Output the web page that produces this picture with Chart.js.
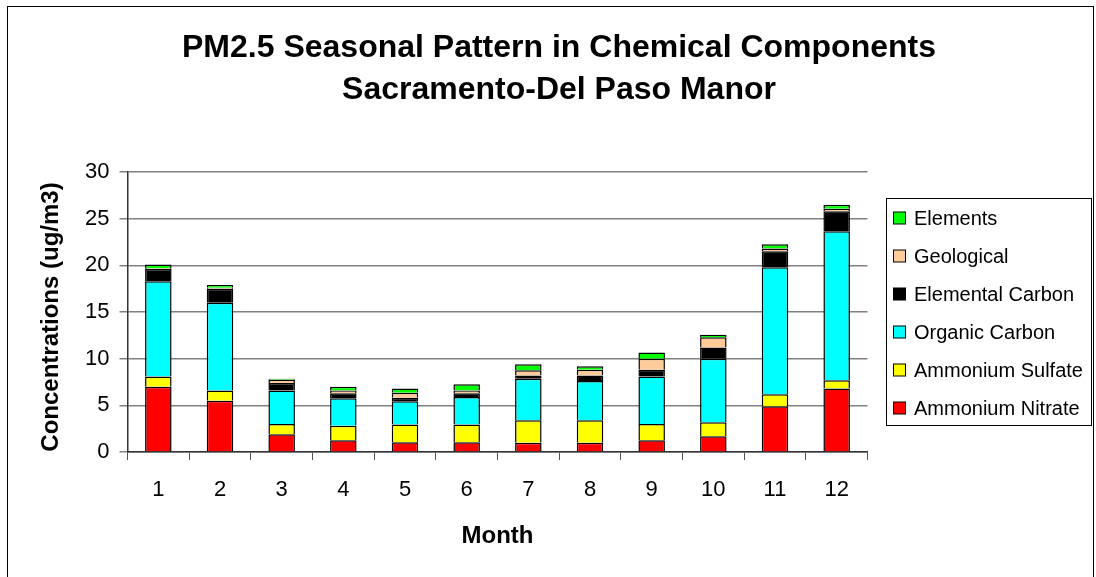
<!DOCTYPE html>
<html>
<head>
<meta charset="utf-8">
<script src="https://cdn.jsdelivr.net/npm/chart.js@4.4.0/dist/chart.umd.min.js"></script>
<style>
  html, body { margin: 0; padding: 0; background: #fff; }
  canvas { display: block; }
</style>
</head>
<body>
<canvas id="myChart" width="1096" height="577"></canvas>
<script>
// months and the six components, bottom of the stack first
const months = ['1', '2', '3', '4', '5', '6', '7', '8', '9', '10', '11', '12'];
const ammoniumNitrate = [7.0, 5.5, 1.9, 1.25, 1.05, 1.05, 1.0, 1.0, 1.25, 1.7, 4.9, 6.8];
const ammoniumSulfate = [1.1, 1.1, 1.1, 1.55, 1.9, 1.9, 2.4, 2.4, 1.75, 1.5, 1.3, 0.9];
const organicCarbon = [10.2, 9.4, 3.6, 2.95, 2.5, 2.95, 4.45, 4.2, 5.1, 6.8, 13.6, 15.95];
const elementalCarbon = [1.3, 1.5, 0.8, 0.55, 0.35, 0.4, 0.35, 0.6, 0.7, 1.2, 1.7, 2.15];
const geological = [0.1, 0.1, 0.35, 0.3, 0.55, 0.3, 0.55, 0.6, 1.2, 1.1, 0.3, 0.25];
const elements = [0.4, 0.3, 0.1, 0.4, 0.45, 0.65, 0.65, 0.4, 0.65, 0.25, 0.45, 0.45];

const titleLines = ['PM2.5 Seasonal Pattern in Chemical Components', 'Sacramento-Del Paso Manor'];
const yTitle = 'Concentrations (ug/m3)';
const xTitle = 'Month';

const FONT = 'Arial, "Liberation Sans", sans-serif';

function makeSet(label, data, color) {
    return {
        label: label,
        data: data,
        backgroundColor: color,
        borderColor: '#000',
        borderWidth: 1.5,
        barPercentage: 0.43,
        categoryPercentage: 1.0
    };
}

const datasets = [
    makeSet('Ammonium Nitrate', ammoniumNitrate, '#FF0000'),
    makeSet('Ammonium Sulfate', ammoniumSulfate, '#FFFF00'),
    makeSet('Organic Carbon', organicCarbon, '#00FFFF'),
    makeSet('Elemental Carbon', elementalCarbon, '#000000'),
    makeSet('Geological', geological, '#FFCC99'),
    makeSet('Elements', elements, '#00FF00')
];

// titles, legend box and outer frame
const decorations = {
    id: 'decorations',
    afterDraw(chart) {
        const ctx = chart.ctx;
        const area = chart.chartArea;
        ctx.save();

        // outer frame
        ctx.strokeStyle = '#000';
        ctx.lineWidth = 1;
        ctx.strokeRect(7.5, 6.5, 1086, 600);

        // main title
        ctx.fillStyle = '#000';
        ctx.textAlign = 'center';
        ctx.textBaseline = 'middle';
        ctx.font = 'bold 32px ' + FONT;
        ctx.fillText(titleLines[0], 559, 48);
        ctx.fillText(titleLines[1], 559, 90);

        // axis titles
        ctx.font = 'bold 24px ' + FONT;
        ctx.fillText(xTitle, (area.left + area.right) / 2, 536);
        ctx.save();
        ctx.translate(51, (area.top + area.bottom) / 2 + 5);
        ctx.rotate(-Math.PI / 2);
        ctx.fillText(yTitle, 0, 0);
        ctx.restore();

        // legend (top item = top of stack)
        ctx.strokeStyle = '#000';
        ctx.strokeRect(886.5, 198.5, 205, 227);
        ctx.font = '20px ' + FONT;
        ctx.textAlign = 'left';
        const sets = chart.data.datasets.slice().reverse();
        sets.forEach((ds, i) => {
            const cy = 218 + i * 38;
            ctx.fillStyle = ds.backgroundColor;
            ctx.fillRect(893.5, cy - 6, 12, 12);
            ctx.strokeRect(893.5, cy - 6, 12, 12);
            ctx.fillStyle = '#000';
            ctx.fillText(ds.label, 914, cy + 1);
        });
        ctx.restore();
    }
};

const canvas = document.getElementById('myChart');
const ctx = canvas.getContext('2d');

const chart = new Chart(ctx, {
    type: 'bar',
    data: {
        labels: months,
        datasets: datasets
    },
    options: {
        responsive: false,
        animation: false,
        devicePixelRatio: 1,
        layout: {
            padding: { left: 0, right: 228.5, top: 172, bottom: 0 }
        },
        plugins: {
            legend: { display: false },
            title: { display: false },
            tooltip: { enabled: false }
        },
        scales: {
            x: {
                stacked: true,
                afterFit: (scale) => { scale.height = 125; },
                grid: {
                    offset: true,
                    drawOnChartArea: false,
                    tickLength: 8,
                    color: '#555'
                },
                border: { color: '#333', width: 1.5 },
                ticks: {
                    color: '#000',
                    padding: 17,
                    font: { size: 22, family: FONT }
                }
            },
            y: {
                stacked: true,
                min: 0,
                max: 30,
                afterFit: (scale) => { scale.width = 127.5; },
                grid: {
                    color: '#808080',
                    lineWidth: 1.5,
                    tickLength: 8
                },
                border: { color: '#333', width: 1.5 },
                ticks: {
                    stepSize: 5,
                    color: '#000',
                    padding: 10,
                    font: { size: 22, family: FONT }
                }
            }
        }
    },
    plugins: [decorations]
});
</script>
</body>
</html>
